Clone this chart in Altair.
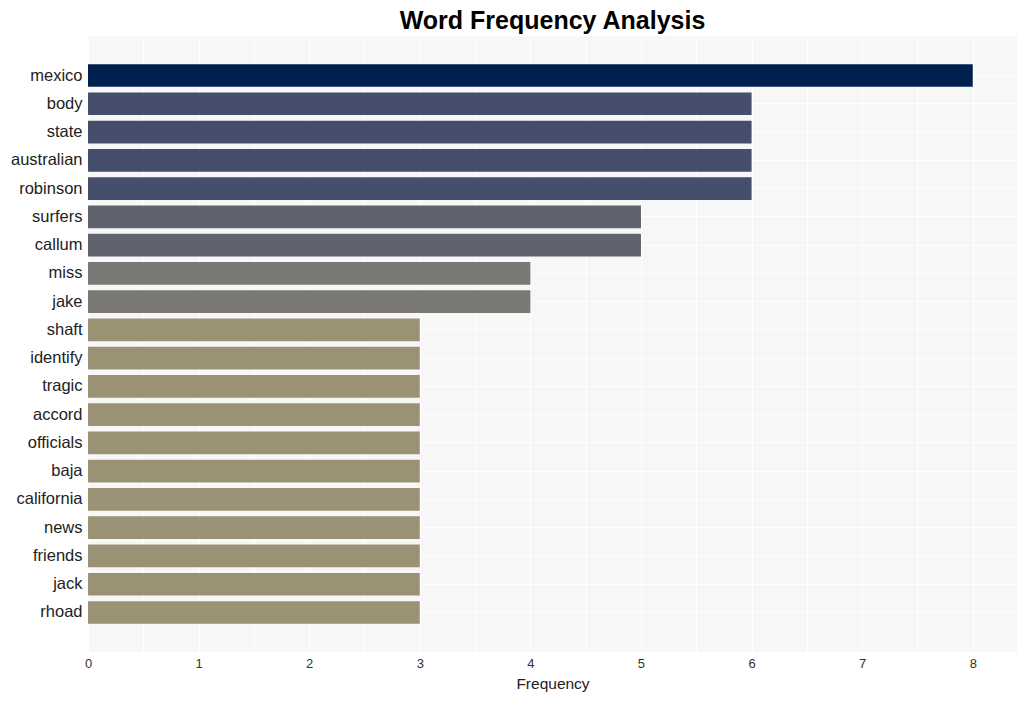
import altair as alt
import pandas as pd

words = ["mexico", "body", "state", "australian", "robinson", "surfers", "callum",
         "miss", "jake", "shaft", "identify", "tragic", "accord", "officials", "baja",
         "california", "news", "friends", "jack", "rhoad"]
freqs = [8, 6, 6, 6, 6, 5, 5, 4, 4, 3, 3, 3, 3, 3, 3, 3, 3, 3, 3, 3]

color_domain = [3, 4, 5, 6, 8]
color_range = ["#9b9276", "#7b7975", "#60636e", "#454e6b", "#00204d"]

x_grid_values = [i * 0.5 for i in range(17)]

df = pd.DataFrame({"word": words, "freq": freqs})

chart = alt.Chart(df).mark_bar().encode(
    y=alt.Y("word:N", sort=words, title=None,
            scale=alt.Scale(paddingInner=0.2, paddingOuter=1.0),
            axis=alt.Axis(grid=True, gridColor="white", gridWidth=1, ticks=False,
                          domain=False, labelFontSize=16.5, labelColor="#222222",
                          labelFont="Liberation Sans", labelPadding=6)),
    x=alt.X("freq:Q", title="Frequency",
            scale=alt.Scale(domain=[0, 8.4], nice=False, zero=True),
            axis=alt.Axis(values=x_grid_values, grid=True, gridColor="white", gridWidth=1,
                          ticks=False, domain=False,
                          labelExpr="datum.value % 1 == 0 ? format(datum.value, 'd') : ''",
                          labelFontSize=13, labelColor="#333333", labelFont="Liberation Sans",
                          labelPadding=5, labelFlush=False,
                          titleFontSize=15.5, titleFontWeight="normal", titleColor="#222222",
                          titleFont="Liberation Sans", titlePadding=6)),
    color=alt.Color("freq:O", scale=alt.Scale(domain=color_domain, range=color_range), legend=None),
).properties(
    width=929,
    height=616,
    title=alt.TitleParams("Word Frequency Analysis", fontSize=25, fontWeight="bold",
                          font="Liberation Sans", color="black", anchor="middle",
                          frame="group", offset=2),
    autosize=alt.AutoSizeParams(type="none"),
    padding={"left": 80, "top": 28, "right": 0, "bottom": 41},
).configure_view(
    fill="#f7f7f7", stroke=None
)

chart.save("out.html", embed_options={"renderer": "svg", "actions": False})
